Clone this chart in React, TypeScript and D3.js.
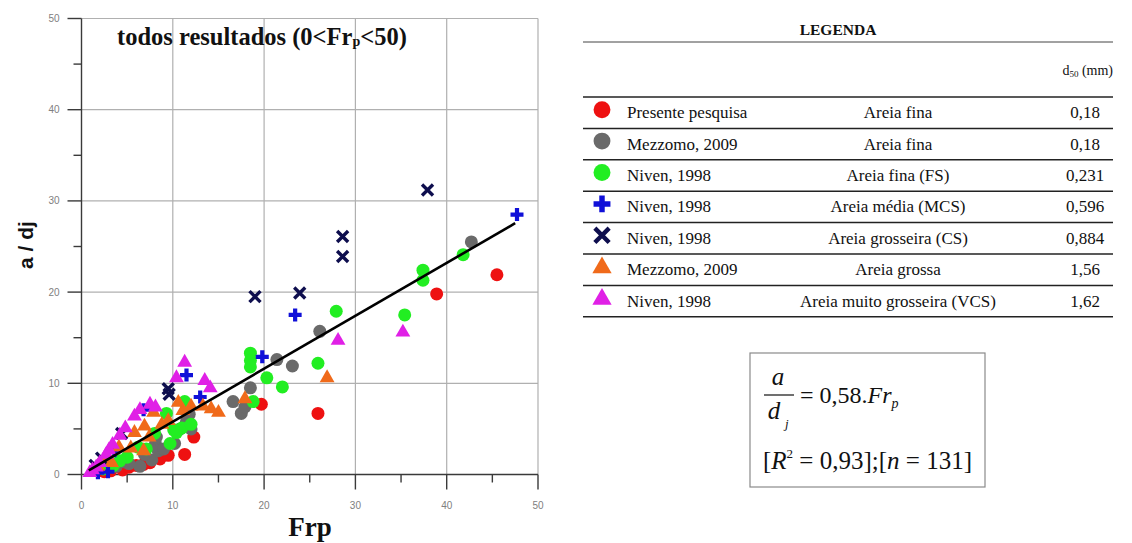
import React from 'react';
import * as d3 from 'd3';

type Pt = [number, number];

// Frp vs a/dj, one array per data set
const presentePesquisa: Pt[] = [
  [45.5, 21.9], [38.9, 19.8], [25.9, 6.7], [19.7, 7.7], [12.3, 4.1], [11.3, 2.2],
  [6.0, 1.0], [4.5, 0.5], [7.5, 1.3], [5.2, 0.8], [3.2, 0.4], [8.6, 1.7],
  [2.5, 0.3], [9.5, 2.1], [6.8, 1.1],
];
const mezzomoFina: Pt[] = [
  [42.7, 25.5], [26.1, 15.7], [23.1, 11.9], [21.4, 12.6], [18.5, 9.5], [16.6, 8.0],
  [17.5, 6.7], [17.9, 7.4], [11.5, 5.8], [10.8, 5.0], [8.1, 3.4], [7.7, 1.6],
  [8.4, 2.6], [6.4, 0.9], [5.2, 1.2], [3.8, 0.9], [2.6, 0.7], [1.8, 0.8],
  [9.0, 2.8], [10.2, 3.4], [6.9, 2.2], [4.6, 1.4], [2.2, 1.2], [12.0, 5.0],
  [8.2, 4.1], [11.8, 6.6],
];
const nivenFS: Pt[] = [
  [41.8, 24.1], [37.4, 22.4], [37.4, 21.3], [35.4, 17.5], [27.9, 17.9], [25.9, 12.2],
  [22.0, 9.6], [20.3, 10.6], [18.5, 13.3], [18.5, 12.5], [18.5, 11.8], [18.8, 8.0],
  [11.3, 8.0], [10.1, 4.9], [9.7, 3.4], [11.0, 5.1], [9.3, 6.7], [7.1, 2.8],
  [5.0, 1.9], [10.4, 4.6], [3.5, 1.0], [8.0, 4.5], [6.2, 3.0], [4.2, 1.5],
  [12.0, 5.5], [2.4, 0.6],
];
const nivenMCS: Pt[] = [
  [47.7, 28.5], [23.4, 17.5], [19.8, 12.9], [11.5, 10.9], [13.0, 8.5], [6.8, 7.1],
  [2.9, 0.3], [1.8, 0.2], [3.6, 2.6],
];
const nivenCS: Pt[] = [
  [37.9, 31.2], [28.6, 26.1], [28.6, 23.9], [23.9, 19.9], [19.0, 19.5], [9.5, 9.4],
  [9.6, 8.8], [4.4, 4.5], [2.2, 1.8], [1.5, 1.0],
];
const mezzomoGrossa: Pt[] = [
  [26.9, 10.7], [15.0, 6.9], [14.2, 7.3], [13.3, 7.6], [17.9, 8.4], [11.1, 7.1],
  [7.9, 6.9], [5.8, 4.7], [6.8, 2.7], [6.9, 5.4], [9.5, 6.0], [4.1, 3.1],
  [2.7, 2.0], [8.8, 5.6], [10.6, 8.0], [12.0, 7.6], [5.4, 3.0], [3.3, 1.4],
  [7.4, 4.2], [1.8, 1.0],
];
const nivenVCS: Pt[] = [
  [28.1, 14.8], [35.2, 15.7], [11.3, 12.4], [10.4, 10.7], [13.5, 10.4], [14.1, 9.6],
  [7.5, 7.8], [5.8, 6.5], [4.2, 4.4], [3.4, 3.4], [2.7, 2.3], [1.6, 0.9],
  [0.9, 0.3], [2.0, 1.4], [6.4, 7.2], [4.8, 5.2], [8.1, 7.5], [1.2, 0.6],
  [3.0, 2.8],
];

const xTicks = [0, 10, 20, 30, 40, 50];
const yTicks = [0, 10, 20, 30, 40, 50];
const minorTicks = [5, 15, 25, 35, 45];

const fitSlope = 0.58;
const fitFrom = 0.8;
const fitTo = 47.5;

const legendAuthors = [
  'Presente pesquisa', 'Mezzomo, 2009', 'Niven, 1998', 'Niven, 1998',
  'Niven, 1998', 'Mezzomo, 2009', 'Niven, 1998',
];
const legendMaterials = [
  'Areia fina', 'Areia fina', 'Areia fina (FS)', 'Areia média (MCS)',
  'Areia grosseira (CS)', 'Areia grossa', 'Areia muito grosseira (VCS)',
];
const legendD50 = ['0,18', '0,18', '0,231', '0,596', '0,884', '1,56', '1,62'];

type Kind = 'circle' | 'plus' | 'cross' | 'triangle';
const series: { data: Pt[]; kind: Kind; color: string }[] = [
  { data: presentePesquisa, kind: 'circle', color: '#ee1111' },
  { data: mezzomoFina, kind: 'circle', color: '#6a6a6a' },
  { data: nivenFS, kind: 'circle', color: '#22ee22' },
  { data: nivenMCS, kind: 'plus', color: '#1010d8' },
  { data: nivenCS, kind: 'cross', color: '#0e0e4e' },
  { data: mezzomoGrossa, kind: 'triangle', color: '#f06a1a' },
  { data: nivenVCS, kind: 'triangle', color: '#e020e6' },
];

const serif = '"Liberation Serif", "Times New Roman", serif';
const sans = '"Liberation Sans", Arial, sans-serif';

function Marker({ kind, color, cx, cy, s }: { kind: Kind; color: string; cx: number; cy: number; s: number }) {
  if (kind === 'circle') return <circle cx={cx} cy={cy} r={6.5 * s} fill={color} />;
  if (kind === 'triangle') {
    const path = d3.symbol().type(d3.symbolTriangle).size(95 * s * s)();
    return <path d={path || ''} transform={`translate(${cx},${cy + 1})`} fill={color} />;
  }
  if (kind === 'plus') {
    const a = 6.5 * s;
    return (
      <path d={`M${cx - a},${cy}H${cx + a}M${cx},${cy - a}V${cy + a}`} stroke={color} strokeWidth={4.2 * s} fill="none" />
    );
  }
  const a = 5.5 * s;
  return (
    <path d={`M${cx - a},${cy - a}L${cx + a},${cy + a}M${cx - a},${cy + a}L${cx + a},${cy - a}`} stroke={color} strokeWidth={3.4 * s} fill="none" />
  );
}

export default function App() {
  const x = d3.scaleLinear().domain([0, 50]).range([81.5, 538]);
  const y = d3.scaleLinear().domain([0, 50]).range([474.5, 18.5]);
  const fitLine = d3.line<number>().x((d) => x(d)).y((d) => y(d * fitSlope));

  const axisColor = '#3a3a3a';
  const gridColor = '#b0b0b0';
  const tickText = '#808080';

  const tableLeft = 583;
  const tableRight = 1113;
  const rowTop = 97;
  const rowH = 31.4;

  return (
    <svg width={1132} height={543} style={{ position: 'absolute', left: 0, top: 0, background: '#fff' }}>
      {/* grid */}
      {yTicks.filter((t) => t > 0).map((t) => (
        <line key={`gy${t}`} x1={x(0)} x2={x(50)} y1={y(t)} y2={y(t)} stroke={gridColor} strokeWidth={1.2} />
      ))}
      {xTicks.filter((t) => t > 0).map((t) => (
        <line key={`gx${t}`} x1={x(t)} x2={x(t)} y1={y(50)} y2={y(0)} stroke={gridColor} strokeWidth={1.2} />
      ))}

      {/* axes */}
      <line x1={x(0)} x2={x(0)} y1={y(50)} y2={y(0)} stroke={axisColor} strokeWidth={1.4} />
      <line x1={x(0)} x2={x(50)} y1={y(0)} y2={y(0)} stroke={axisColor} strokeWidth={1.4} />
      {yTicks.map((t) => (
        <g key={`ty${t}`}>
          <line x1={x(0) - 14} x2={x(0)} y1={y(t)} y2={y(t)} stroke={axisColor} strokeWidth={1.4} />
          <text x={x(0) - 22} y={y(t) + 3.5} textAnchor="end" fontFamily={sans} fontSize={10} fill={tickText}>{t}</text>
        </g>
      ))}
      {minorTicks.map((t) => (
        <line key={`my${t}`} x1={x(0) - 8} x2={x(0)} y1={y(t)} y2={y(t)} stroke={axisColor} strokeWidth={1.4} />
      ))}
      {xTicks.map((t) => (
        <g key={`tx${t}`}>
          <line x1={x(t)} x2={x(t)} y1={y(0)} y2={y(0) + 15} stroke={axisColor} strokeWidth={1.4} />
          <text x={x(t)} y={509} textAnchor="middle" fontFamily={sans} fontSize={10} fill={tickText}>{t}</text>
        </g>
      ))}
      {minorTicks.map((t) => (
        <line key={`mx${t}`} x1={x(t)} x2={x(t)} y1={y(0)} y2={y(0) + 8} stroke={axisColor} strokeWidth={1.4} />
      ))}

      {/* axis titles */}
      <text transform="translate(33,245) rotate(-90)" textAnchor="middle" fontFamily={sans} fontWeight="bold" fontSize={21} fill="#111">a / dj</text>
      <text x={310} y={536} textAnchor="middle" fontFamily={serif} fontWeight="bold" fontSize={27} fill="#111">Frp</text>

      {/* title */}
      <text x={117} y={45} fontFamily={serif} fontWeight="bold" fontSize={24.5} fill="#111">
        todos resultados (0&lt;Fr<tspan fontSize={14} dy={1}>p</tspan><tspan dy={-1}>&lt;50)</tspan>
      </text>

      {/* data points */}
      {series.map((s, i) => (
        <g key={`s${i}`}>
          {s.data.map((d, j) => (
            <Marker key={j} kind={s.kind} color={s.color} cx={x(d[0])} cy={y(d[1])} s={1} />
          ))}
        </g>
      ))}

      {/* fitted line */}
      <path d={fitLine([fitFrom, fitTo]) || ''} stroke="#000" strokeWidth={2.6} fill="none" />

      {/* legend table */}
      <text x={838} y={35} textAnchor="middle" fontFamily={serif} fontWeight="bold" fontSize={15.5} fill="#111">LEGENDA</text>
      <line x1={tableLeft} x2={tableRight} y1={42} y2={42} stroke="#444" strokeWidth={1} />
      <text x={tableRight} y={75} textAnchor="end" fontFamily={serif} fontSize={14} fill="#111">
        d<tspan fontSize={9} dy={2}>50</tspan><tspan dy={-2}> (mm)</tspan>
      </text>
      {d3.range(legendAuthors.length + 1).map((i) => (
        <line key={`rl${i}`} x1={tableLeft} x2={tableRight} y1={rowTop + i * rowH} y2={rowTop + i * rowH} stroke="#222" strokeWidth={1.5} />
      ))}
      {legendAuthors.map((a, i) => {
        const cy = rowTop + (i + 0.5) * rowH;
        return (
          <g key={`lr${i}`}>
            <Marker kind={series[i].kind} color={series[i].color} cx={602} cy={cy - 3} s={1.3} />
            <text x={627} y={cy + 5.5} fontFamily={serif} fontSize={17} fill="#111">{a}</text>
            <text x={898} y={cy + 5.5} textAnchor="middle" fontFamily={serif} fontSize={17} fill="#111">{legendMaterials[i]}</text>
            <text x={1085} y={cy + 5.5} textAnchor="middle" fontFamily={serif} fontSize={17} fill="#111">{legendD50[i]}</text>
          </g>
        );
      })}

      {/* regression equation */}
      <rect x={750} y={353} width={235} height={134} fill="#fff" stroke="#8a8a8a" strokeWidth={1.2} />
      <g fontFamily={serif} fill="#111">
        <text x={778} y={385} textAnchor="middle" fontStyle="italic" fontSize={25}>a</text>
        <line x1={764} x2={794} y1={395} y2={395} stroke="#111" strokeWidth={1.2} />
        <text x={774} y={419} textAnchor="middle" fontStyle="italic" fontSize={25}>d</text>
        <text x={785} y={428} fontStyle="italic" fontSize={13}>j</text>
        <text x={800} y={403} fontSize={24}>
          = 0,58.<tspan fontStyle="italic">Fr</tspan><tspan fontStyle="italic" fontSize={14} dy={5}>p</tspan>
        </text>
        <text x={763} y={469} fontSize={25}>
          [<tspan fontStyle="italic">R</tspan><tspan fontSize={13} dy={-11}>2</tspan><tspan dy={11}> = 0,93];[</tspan><tspan fontStyle="italic">n</tspan> = 131]
        </text>
      </g>
    </svg>
  );
}
